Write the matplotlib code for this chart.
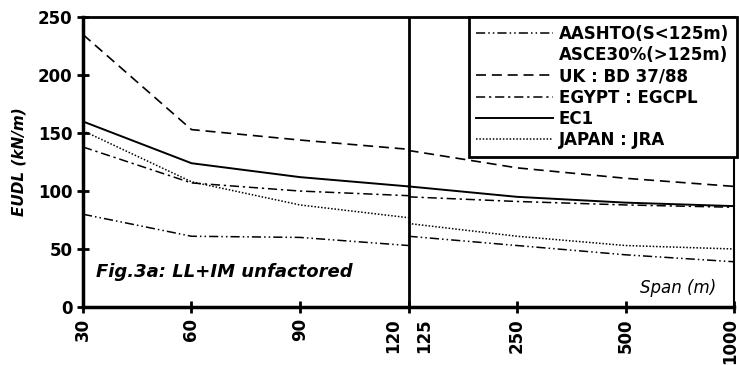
"""
EUDL vs span, Fig.3a (LL+IM unfactored) - rebuilt in matplotlib.
"""

import matplotlib

matplotlib.use("Agg")

import matplotlib.pyplot as plt
from matplotlib.lines import Line2D

# Spans: short spans on the left part, long spans on the right part
spans_short = [30, 60, 90, 120]
spans_long = [125, 250, 500, 1000]

# EUDL values, kN/m
aashto_short = [80, 61, 60, 53]
asce_long = [61, 53, 45, 39]
uk_short = [235, 153, 144, 136]
uk_long = [135, 120, 111, 104]
egypt_short = [138, 107, 100, 96]
egypt_long = [95, 91, 88, 86]
ec1_short = [160, 124, 112, 104]
ec1_long = [104, 95, 90, 87]
japan_short = [152, 108, 88, 77]
japan_long = [72, 61, 53, 50]

y_ticks = [0, 50, 100, 150, 200, 250]

plt.rcParams["font.family"] = "DejaVu Sans"
plt.rcParams["font.weight"] = "bold"

# line styles per code
styles = {
    "aashto": dict(color="black", lw=1.1, ls=(0, (6, 2, 1, 2, 1, 2))),
    "uk": dict(color="black", lw=1.2, ls=(0, (6, 3.5))),
    "egypt": dict(color="black", lw=1.1, ls=(0, (6, 2.5, 1.5, 2.5))),
    "ec1": dict(color="black", lw=1.4, ls="-"),
    "japan": dict(color="black", lw=1.1, ls=(0, (1, 1.2))),
}

fig = plt.figure(figsize=(7.39, 3.65), dpi=100)
ax = fig.add_axes([0.1123, 0.159, 0.881, 0.794])

# categories are equally spaced; 120 and 125 share the divider position
pos_short = list(range(len(spans_short)))
pos_long = [len(spans_short) - 1 + i for i in range(len(spans_long))]

series = [
    ("aashto", aashto_short, asce_long),
    ("uk", uk_short, uk_long),
    ("egypt", egypt_short, egypt_long),
    ("ec1", ec1_short, ec1_long),
    ("japan", japan_short, japan_long),
]
for key, short_vals, long_vals in series:
    ax.plot(pos_short, short_vals, **styles[key])
    ax.plot(pos_long, long_vals, **styles[key])

# divider between short and long span parts
ax.axvline(pos_short[-1], color="black", lw=2.0)

ax.set_xlim(pos_short[0], pos_long[-1])
ax.set_ylim(y_ticks[0], y_ticks[-1])
ax.set_yticks(y_ticks)
ax.set_yticklabels([str(v) for v in y_ticks], fontsize=12, fontweight="bold")

# x ticks without built-in labels; labels are placed below so that
# "120" and "125" can sit either side of the divider
ax.set_xticks(sorted(set(pos_short + pos_long)))
ax.set_xticklabels([])

label_pos = pos_short + pos_long
label_txt = [str(v) for v in spans_short + spans_long]
label_dx = [0, 0, 0, -11, 11, 0, 0, -3]
for p, txt, dx in zip(label_pos, label_txt, label_dx):
    ax.annotate(txt, xy=(p, 0), xycoords=ax.get_xaxis_transform(),
                xytext=(dx, -8), textcoords="offset points",
                rotation=90, ha="center", va="top",
                fontsize=12, fontweight="bold", annotation_clip=False)

ax.tick_params(axis="both", direction="inout", length=9, width=2, pad=3)

for side in ["left", "bottom"]:
    ax.spines[side].set_linewidth(2.5)
ax.spines["top"].set_linewidth(2.0)
ax.spines["right"].set_linewidth(1.5)

ax.set_ylabel("EUDL (kN/m)", fontsize=11, fontweight="bold", style="italic",
              labelpad=8)

ax.text(0.02, 0.12, "Fig.3a: LL+IM unfactored", transform=ax.transAxes,
        fontsize=13, fontweight="bold", style="italic", ha="left", va="center")
ax.text(0.973, 0.065, "Span (m)", transform=ax.transAxes,
        fontsize=12, fontweight="normal", style="italic", ha="right", va="center")

# legend: ASCE line shares the AASHTO handle, so give it an empty handle
handles = [
    Line2D([], [], **styles["aashto"]),
    Line2D([], [], color="none"),
    Line2D([], [], **styles["uk"]),
    Line2D([], [], **styles["egypt"]),
    Line2D([], [], **styles["ec1"]),
    Line2D([], [], **styles["japan"]),
]
names = ["AASHTO(S<125m)", "ASCE30%(>125m)", "UK : BD 37/88",
         "EGYPT : EGCPL", "EC1", "JAPAN : JRA"]
leg = ax.legend(handles, names, loc="upper right", bbox_to_anchor=(1.004, 1.0),
                fontsize=12, frameon=True, fancybox=False, framealpha=1,
                edgecolor="black", borderpad=0.45, labelspacing=0.2,
                handlelength=4.6, handletextpad=0.35, borderaxespad=0)
leg.get_frame().set_linewidth(2.0)
for t in leg.get_texts():
    t.set_fontweight("bold")

plt.savefig("out.png", dpi=100)
plt.close(fig)
